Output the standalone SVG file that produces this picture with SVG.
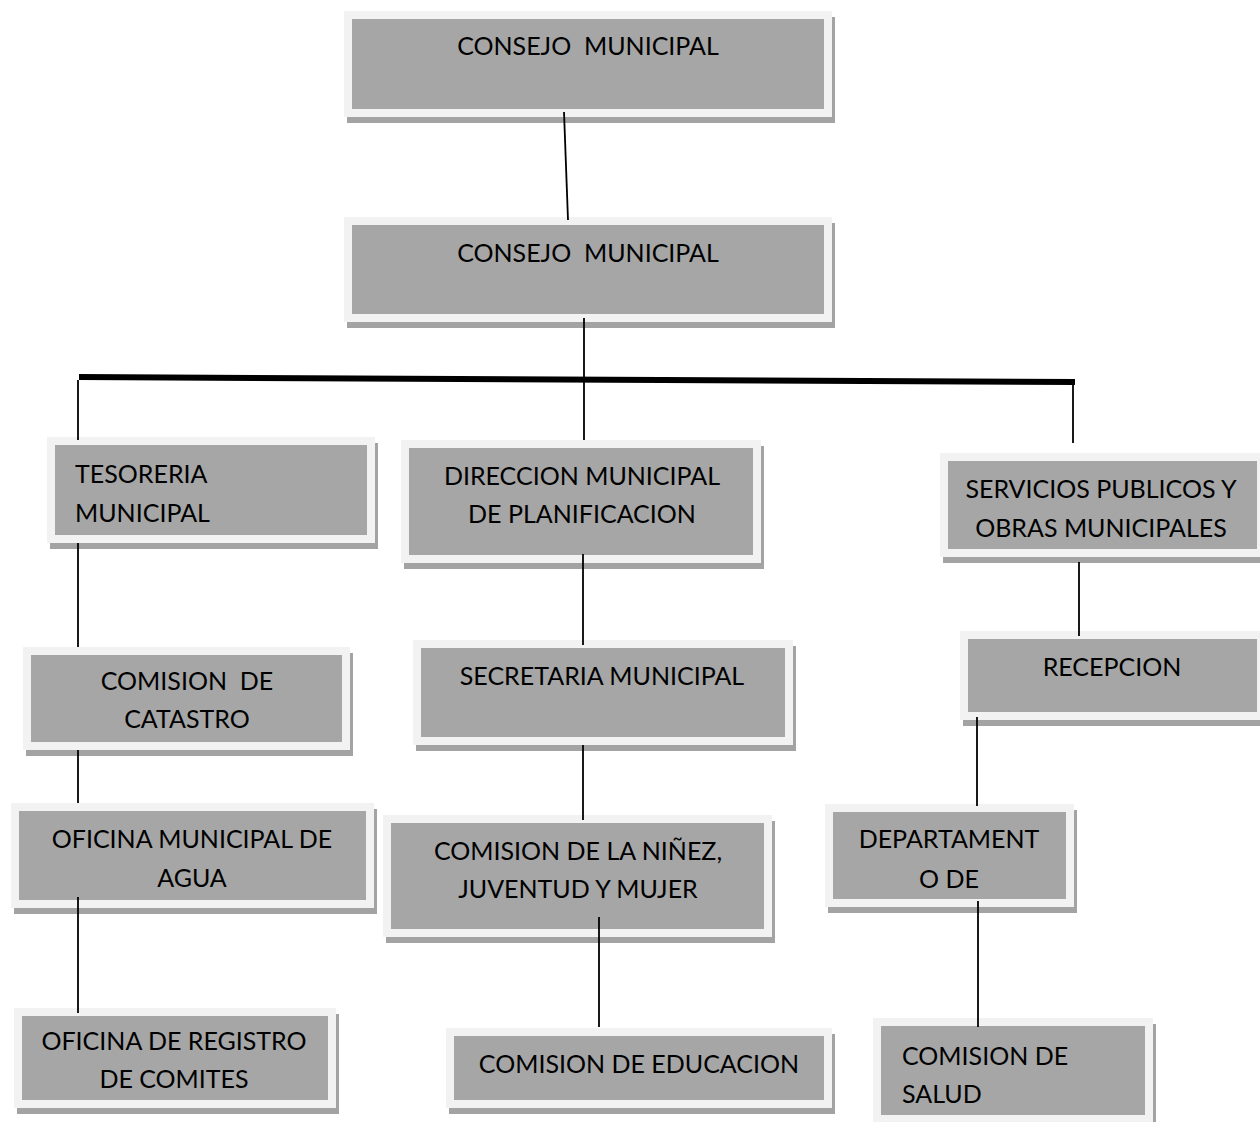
<svg xmlns="http://www.w3.org/2000/svg" width="1260" height="1122" viewBox="0 0 1260 1122">
<style>
.sh{fill:#a3a3a3}
.bx{fill:#a6a6a6;stroke:#f2f2f2;stroke-width:8}
text{font-family:Lato,"Open Sans","Liberation Sans",sans-serif;font-size:25px;fill:#000;white-space:pre}
.c{text-anchor:middle}
.ln{stroke:#000;stroke-width:1.8;fill:none}
</style>
<rect width="1260" height="1122" fill="#fff"/>
<g id="n1"><rect class="sh" x="347" y="17" width="488" height="106"/><rect class="bx" x="348" y="15" width="480" height="98"/><text class="c" x="588" y="55">CONSEJO&#160; MUNICIPAL</text></g>
<g id="n2"><rect class="sh" x="347" y="223" width="488" height="105"/><rect class="bx" x="348" y="221" width="480" height="97"/><text class="c" x="588" y="262">CONSEJO&#160; MUNICIPAL</text></g>
<g id="n3"><rect class="sh" x="50" y="443" width="328" height="106"/><rect class="bx" x="51" y="441" width="320" height="98"/><text x="75" y="483">TESORERIA</text><text x="75" y="522">MUNICIPAL</text></g>
<g id="n4"><rect class="sh" x="404" y="446" width="360" height="123"/><rect class="bx" x="405" y="444" width="352" height="115"/><text class="c" x="582" y="485">DIRECCION MUNICIPAL</text><text class="c" x="582" y="523">DE PLANIFICACION</text></g>
<g id="n5"><rect class="sh" x="943" y="459" width="325" height="104"/><rect class="bx" x="944" y="457" width="317" height="96"/><text class="c" x="1101" y="498">SERVICIOS PUBLICOS Y</text><text class="c" x="1101" y="537">OBRAS MUNICIPALES</text></g>
<g id="n6"><rect class="sh" x="26" y="653" width="327" height="103"/><rect class="bx" x="27" y="651" width="319" height="95"/><text class="c" x="187" y="690">COMISION&#160; DE</text><text class="c" x="187" y="728">CATASTRO</text></g>
<g id="n7"><rect class="sh" x="416" y="646" width="380" height="105"/><rect class="bx" x="417" y="644" width="372" height="97"/><text class="c" x="602" y="685">SECRETARIA MUNICIPAL</text></g>
<g id="n8"><rect class="sh" x="963" y="637" width="305" height="89"/><rect class="bx" x="964" y="635" width="297" height="81"/><text class="c" x="1112" y="676">RECEPCION</text></g>
<g id="n9"><rect class="sh" x="14" y="809" width="363" height="105"/><rect class="bx" x="15" y="807" width="355" height="97"/><text class="c" x="192" y="848">OFICINA MUNICIPAL DE</text><text class="c" x="192" y="887">AGUA</text></g>
<g id="n10"><rect class="sh" x="386" y="821" width="389" height="122"/><rect class="bx" x="387" y="819" width="381" height="114"/><text class="c" x="578" y="860">COMISION DE LA NIÑEZ,</text><text class="c" x="578" y="898">JUVENTUD Y MUJER</text></g>
<g id="n11"><rect class="sh" x="828" y="810" width="249" height="103"/><rect class="bx" x="829" y="808" width="241" height="95"/><text class="c" x="949" y="848">DEPARTAMENT</text><text class="c" x="949" y="888">O DE</text></g>
<g id="n12"><rect class="sh" x="17" y="1014" width="322" height="100"/><rect class="bx" x="18" y="1012" width="314" height="92"/><text class="c" x="174" y="1050">OFICINA DE REGISTRO</text><text class="c" x="174" y="1088">DE COMITES</text></g>
<g id="n13"><rect class="sh" x="449" y="1034" width="386" height="80"/><rect class="bx" x="450" y="1032" width="378" height="72"/><text class="c" x="639" y="1073">COMISION DE EDUCACION</text></g>
<g id="n14"><rect class="sh" x="876" y="1024" width="280" height="105"/><rect class="bx" x="877" y="1022" width="272" height="97"/><text x="902" y="1065">COMISION DE</text><text x="902" y="1103">SALUD</text></g>
<g id="connectors">
<line class="ln" x1="564" y1="112" x2="568" y2="220"/>
<line class="ln" x1="584" y1="318" x2="584" y2="440"/>
<line x1="79" y1="377" x2="1075" y2="382" stroke="#000" stroke-width="6"/>
<line class="ln" x1="78" y1="380" x2="78" y2="440"/>
<line class="ln" x1="1073" y1="384" x2="1073" y2="443"/>
<line class="ln" x1="78" y1="543" x2="78" y2="647"/>
<line class="ln" x1="78" y1="750" x2="78" y2="803"/>
<line class="ln" x1="78" y1="897" x2="78" y2="1013"/>
<line class="ln" x1="583" y1="554" x2="583" y2="645"/>
<line class="ln" x1="583" y1="745" x2="583" y2="820"/>
<line class="ln" x1="599" y1="917" x2="599" y2="1027"/>
<line class="ln" x1="1079" y1="562" x2="1079" y2="636"/>
<line class="ln" x1="977" y1="717" x2="977" y2="806"/>
<line class="ln" x1="978" y1="901" x2="978" y2="1027"/>
</g>
</svg>
